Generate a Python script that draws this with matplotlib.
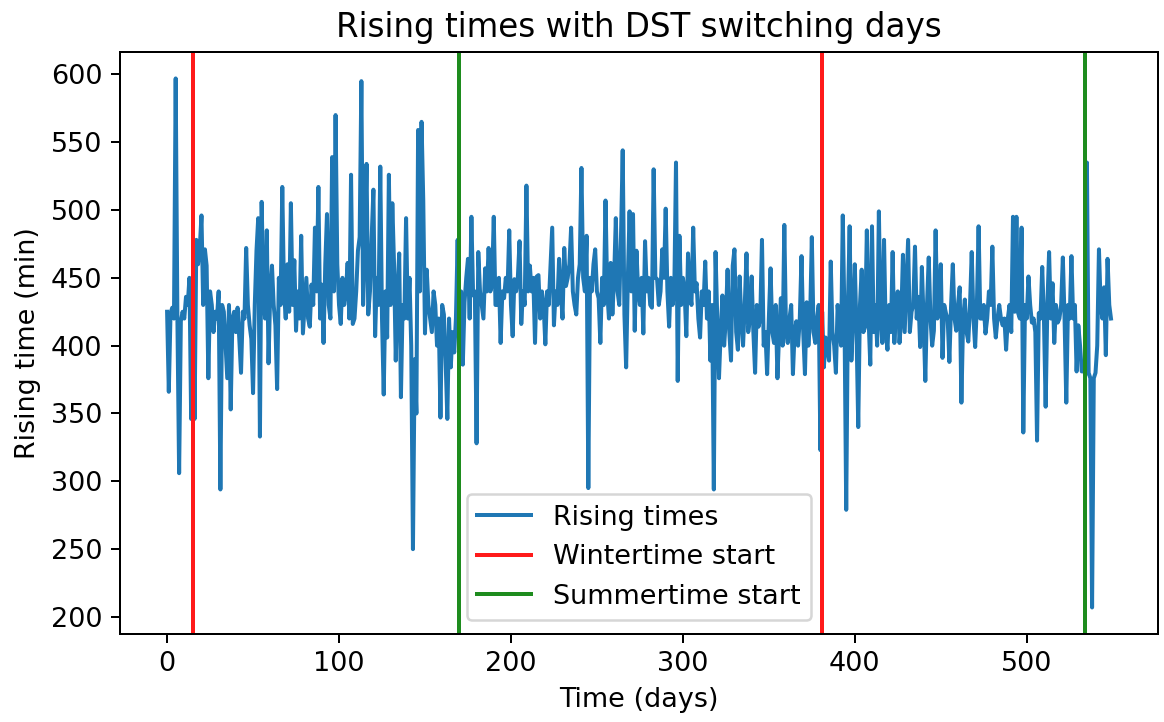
import numpy as np
import matplotlib
matplotlib.use("Agg")
import matplotlib.pyplot as plt

# rising times (minutes after midnight), one per day
rising_times = [
    425, 366, 424, 428, 420, 597, 420, 306, 418, 425,
    420, 436, 430, 450, 346, 443, 346, 478, 460, 472,
    496, 430, 471, 459, 376, 440, 430, 410, 425, 420,
    440, 294, 430, 425, 400, 376, 430, 353, 420, 425,
    410, 428, 405, 380, 425, 420, 472, 430, 415, 405,
    365, 430, 470, 494, 333, 506, 440, 420, 485, 387,
    440, 459, 430, 415, 368, 450, 430, 517, 440, 420,
    460, 425, 505, 430, 463, 411, 440, 420, 481, 409,
    430, 450, 420, 414, 445, 430, 487, 440, 517, 420,
    445, 402, 460, 497, 430, 420, 539, 440, 570, 460,
    430, 416, 450, 430, 440, 461, 420, 526, 416, 420,
    440, 470, 480, 595, 430, 470, 534, 423, 440, 480,
    515, 407, 450, 430, 532, 420, 364, 440, 406, 526,
    430, 505, 460, 389, 440, 468, 362, 430, 420, 494,
    420, 450, 400, 250, 390, 350, 559, 440, 565, 507,
    409, 456, 430, 420, 410, 440, 430, 400, 420, 347,
    430, 423, 389, 346, 420, 384, 410, 395, 420, 478,
    386, 440, 386, 432, 450, 464, 420, 495, 437, 440,
    328, 469, 440, 430, 420, 457, 440, 472, 440, 445,
    495, 430, 430, 450, 402, 440, 435, 450, 440, 485,
    430, 407, 449, 440, 450, 477, 416, 440, 430, 518,
    440, 459, 440, 450, 402, 451, 452, 420, 440, 430,
    401, 440, 430, 459, 487, 415, 440, 430, 464, 440,
    420, 472, 444, 450, 460, 487, 440, 430, 423, 450,
    460, 531, 450, 440, 481, 295, 450, 440, 460, 471,
    440, 435, 402, 450, 430, 507, 440, 420, 461, 423,
    450, 494, 440, 430, 480, 544, 423, 384, 450, 499,
    440, 497, 411, 470, 440, 430, 450, 409, 477, 440,
    450, 430, 428, 530, 450, 449, 430, 440, 471, 450,
    501, 440, 414, 450, 430, 440, 535, 374, 481, 430,
    450, 440, 407, 468, 440, 430, 487, 440, 446, 420,
    406, 440, 430, 462, 420, 440, 389, 430, 294, 469,
    420, 376, 410, 437, 400, 420, 456, 410, 389, 459,
    471, 410, 397, 451, 420, 400, 430, 468, 410, 420,
    451, 410, 380, 430, 414, 420, 478, 400, 410, 379,
    420, 457, 410, 402, 430, 376, 410, 435, 400, 489,
    410, 402, 420, 430, 379, 410, 418, 400, 420, 466,
    410, 379, 432, 400, 420, 480, 410, 402, 420, 430,
    323, 425, 384, 406, 398, 389, 462, 410, 400, 380,
    430, 412, 400, 496, 420, 279, 430, 488, 389, 420,
    460, 410, 340, 430, 456, 410, 414, 485, 420, 386,
    488, 410, 430, 400, 499, 420, 402, 478, 410, 397,
    430, 410, 469, 402, 430, 440, 402, 420, 467, 410,
    444, 478, 410, 425, 430, 473, 420, 436, 399, 458,
    420, 374, 430, 465, 420, 400, 411, 485, 420, 430,
    460, 391, 430, 424, 420, 388, 430, 460, 420, 411,
    430, 443, 358, 420, 434, 410, 403, 430, 469, 420,
    399, 430, 488, 420, 420, 430, 409, 420, 440, 430,
    473, 420, 406, 420, 430, 420, 415, 420, 397, 420,
    430, 410, 495, 425, 495, 424, 420, 487, 336, 430,
    420, 451, 430, 417, 420, 410, 330, 424, 420, 458,
    420, 355, 430, 469, 420, 446, 402, 430, 417, 420,
    430, 465, 420, 358, 430, 420, 466, 420, 430, 381,
    415, 400, 381, 385, 378, 535, 380, 376, 207, 376,
    380, 400, 471, 430, 420, 443, 393, 464, 430, 420,
]
days = np.arange(len(rising_times))

wintertime_days = [15, 381]
summertime_days = [170, 534]

plt.rcParams["font.size"] = 10.8

fig = plt.figure(figsize=(1164 / 180, 722 / 180), dpi=180)
ax = fig.add_axes([0.103, 0.122, 0.892, 0.806])

ax.plot(days, rising_times, lw=1.6, label="Rising times")
for i, d in enumerate(wintertime_days):
    ax.axvline(d, color="#ff1a1a", lw=1.6, label="Wintertime start" if i == 0 else None)
for i, d in enumerate(summertime_days):
    ax.axvline(d, color="#1e8c1e", lw=1.6, label="Summertime start" if i == 0 else None)

ax.set_title("Rising times with DST switching days", fontsize=13)
ax.set_xlabel("Time (days)")
ax.set_ylabel("Rising time (min)")
ax.legend(loc="lower center")

fig.savefig("out.png", dpi=180)
